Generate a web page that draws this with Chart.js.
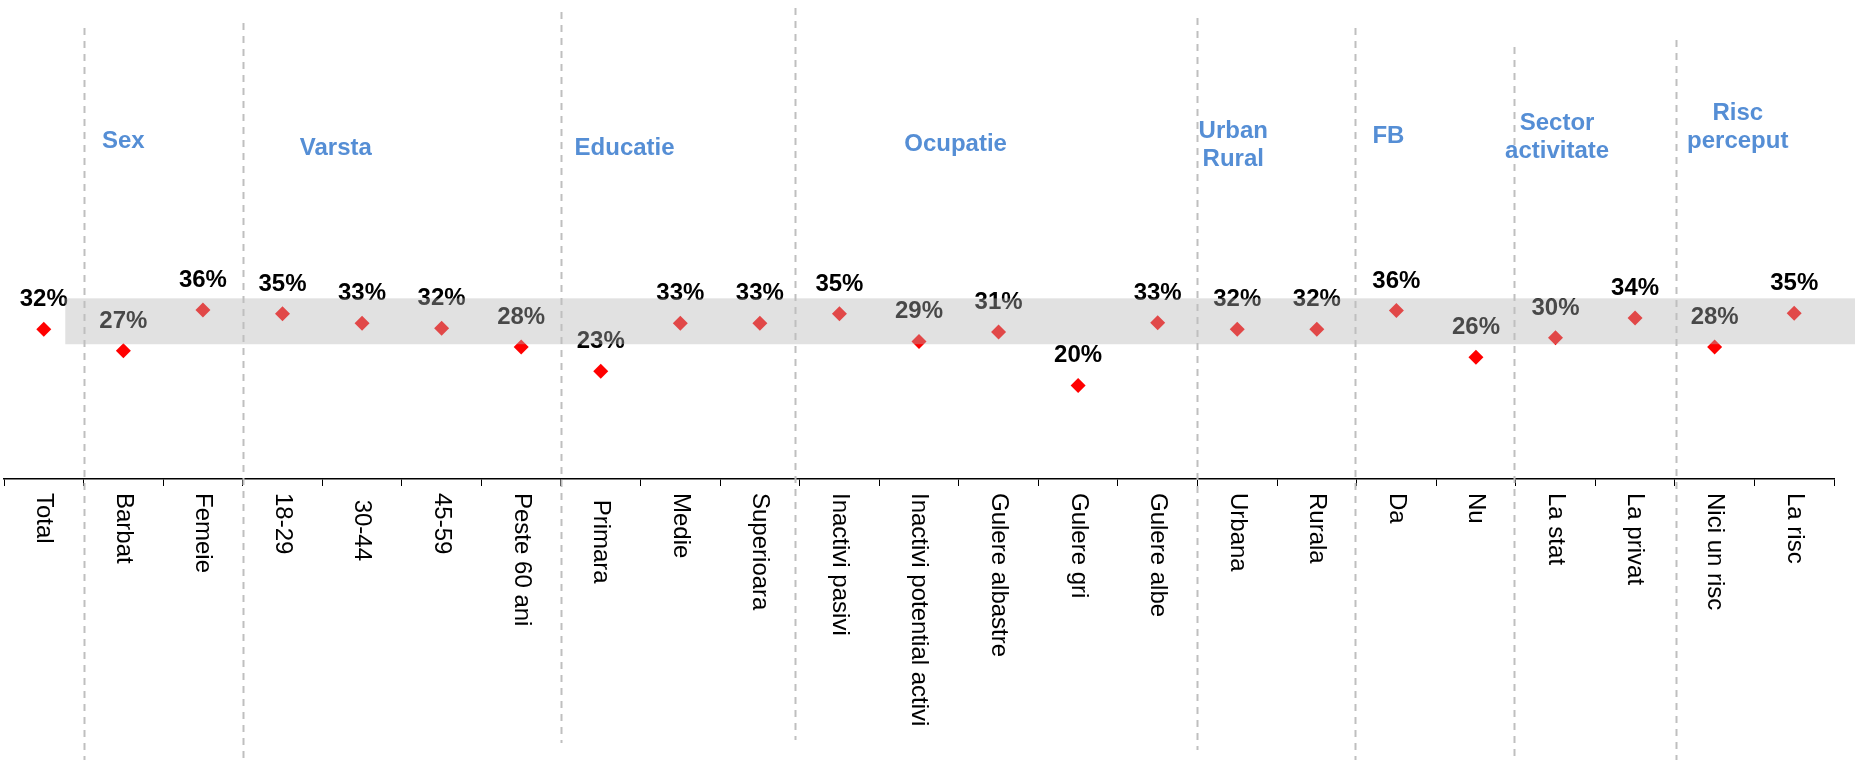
<!DOCTYPE html>
<html>
<head>
<meta charset="utf-8">
<script src="https://cdn.jsdelivr.net/npm/chart.js@4.4.0/dist/chart.umd.min.js"></script>
<style>
  html, body { margin: 0; padding: 0; background: #ffffff; }
</style>
</head>
<body>
<canvas id="chart" width="1855" height="760"></canvas>
<script>
// Data
const categories = ['Total', 'Barbat', 'Femeie', '18-29', ' 30-44', '45-59', 'Peste 60 ani',
  ' Primara', 'Medie', 'Superioara', 'Inactivi pasivi', 'Inactivi potential activi',
  'Gulere albastre', 'Gulere gri', 'Gulere albe', 'Urbana', 'Rurala', 'Da', 'Nu',
  'La stat', 'La privat', 'Nici un risc', 'La risc'];
const values = [32, 27.4, 36.1, 35.3, 33.3, 32.2, 28.2,
  23, 33.3, 33.3, 35.3, 29.4,
  31.4, 20, 33.4, 32, 32, 36, 26,
  30.2, 34.4, 28.2, 35.4];
const groupNames = [['Sex'], ['Varsta'], ['Educatie'], ['Ocupatie'], ['Urban', 'Rural'],
  ['FB'], ['Sector', 'activitate'], ['Risc', 'perceput']];
const bandLow = 28.8;
const bandHigh = 38.6;

const FONT = '"Liberation Sans", Arial, sans-serif';

// where the group titles sit (category index, text line centres in px)
const headerLayout = [
  { at: 1.0, ys: [139] }, { at: 3.67, ys: [146] }, { at: 7.3, ys: [146] },
  { at: 11.46, ys: [142] }, { at: 14.95, ys: [129, 157] }, { at: 16.9, ys: [134] },
  { at: 19.02, ys: [121, 149] }, { at: 21.29, ys: [111, 139] }
];
// hand drawn dashed separators
const separatorLayout = [
  { at: 0.5, top: 28, bottom: 760 }, { at: 2.5, top: 23, bottom: 760 },
  { at: 6.5, top: 12, bottom: 743 }, { at: 9.44, top: 8, bottom: 740 },
  { at: 14.5, top: 18, bottom: 750 }, { at: 16.48, top: 28, bottom: 760 },
  { at: 18.48, top: 47, bottom: 760 }, { at: 20.51, top: 40, bottom: 760 }
];

const overlayPlugin = {
  id: 'overlay',
  afterDatasetsDraw(chart) {
    const ctx = chart.ctx;
    const meta = chart.getDatasetMeta(0);
    ctx.save();
    ctx.font = 'bold 24px ' + FONT;
    ctx.fillStyle = '#000000';
    ctx.textAlign = 'center';
    ctx.textBaseline = 'alphabetic';
    meta.data.forEach((pt, i) => {
      ctx.fillText(Math.round(values[i]) + '%', pt.x, pt.y - 23);
    });
    ctx.restore();
  },
  afterDraw(chart) {
    const ctx = chart.ctx;
    const x = chart.scales.x;
    const y = chart.scales.y;

    // translucent grey band on top of the markers
    ctx.save();
    const top = y.getPixelForValue(bandHigh);
    const bot = y.getPixelForValue(bandLow);
    const left = x.getPixelForValue(0.27);
    ctx.fillStyle = 'rgba(180,180,180,0.40)';
    ctx.fillRect(left, top, chart.width - left, bot - top);
    ctx.restore();

    // dashed separators
    ctx.save();
    ctx.strokeStyle = '#BFBFBF';
    ctx.lineWidth = 2;
    ctx.setLineDash([7, 6]);
    separatorLayout.forEach(s => {
      const px = Math.round(x.getPixelForValue(s.at)) + 0.5;
      ctx.beginPath();
      ctx.moveTo(px, s.top);
      ctx.lineTo(px, s.bottom);
      ctx.stroke();
    });
    ctx.restore();

    // group titles
    ctx.save();
    ctx.font = 'bold 24px ' + FONT;
    ctx.fillStyle = '#558ED5';
    ctx.textAlign = 'center';
    ctx.textBaseline = 'alphabetic';
    groupNames.forEach((lines, g) => {
      const h = headerLayout[g];
      const px = x.getPixelForValue(h.at);
      lines.forEach((txt, k) => ctx.fillText(txt, px, h.ys[k] + 8.5));
    });
    ctx.restore();

    // category labels, rotated clockwise
    ctx.save();
    ctx.font = '24px ' + FONT;
    ctx.fillStyle = '#000000';
    ctx.textAlign = 'left';
    ctx.textBaseline = 'middle';
    const axisY = x.top;
    categories.forEach((lab, i) => {
      ctx.save();
      ctx.translate(x.getPixelForValue(i), axisY + 14);
      ctx.rotate(Math.PI / 2);
      ctx.fillText(lab, 0, 0);
      ctx.restore();
    });
    ctx.restore();
  }
};

new Chart(document.getElementById('chart').getContext('2d'), {
  type: 'line',
  data: {
    labels: categories,
    datasets: [{
      data: values,
      showLine: false,
      pointStyle: 'rectRot',
      pointRadius: 7.5,
      pointHoverRadius: 7.5,
      pointBackgroundColor: '#FF0000',
      pointBorderColor: '#FF0000',
      pointBorderWidth: 0
    }]
  },
  options: {
    responsive: false,
    animation: false,
    events: [],
    layout: { autoPadding: false, padding: { left: 4, right: 21, top: 11, bottom: 274 } },
    plugins: { legend: { display: false }, tooltip: { enabled: false } },
    scales: {
      x: {
        type: 'category',
        offset: true,
        grid: { offset: true, drawOnChartArea: false, drawTicks: true, tickLength: 7, color: '#000000', lineWidth: 1 },
        border: { display: true, color: '#000000', width: 1.5 },
        ticks: { display: false }
      },
      y: { display: false, min: 0, max: 100 }
    }
  },
  plugins: [overlayPlugin]
});
</script>
</body>
</html>
